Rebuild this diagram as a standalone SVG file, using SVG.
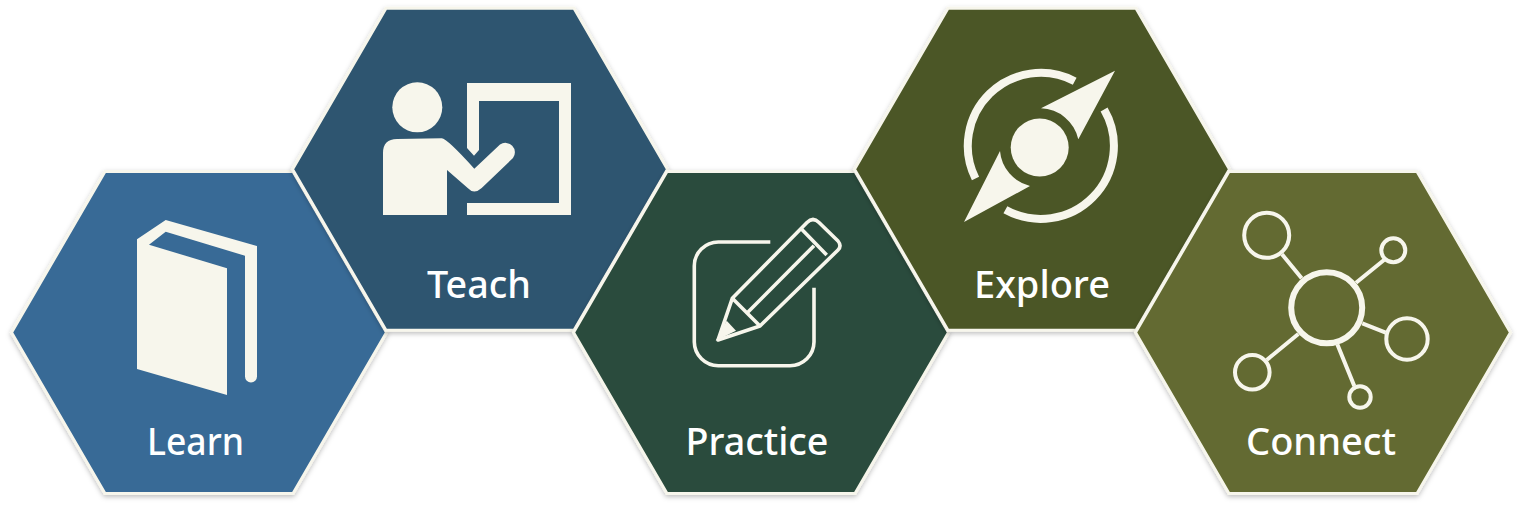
<svg xmlns="http://www.w3.org/2000/svg" width="1522" height="506" viewBox="0 0 1522 506">
<style>
.hex{stroke:#f7f6ec;stroke-width:3;stroke-linejoin:miter;filter:url(#sh)}
.ink{fill:#f7f6ec}
.ln{fill:none;stroke:#f7f6ec;stroke-width:4}
.pen{fill:none;stroke:#f7f6ec;stroke-width:3.6;stroke-linejoin:round}
.lbl{font-family:"Noto Sans","Liberation Sans",sans-serif;font-size:38px;font-weight:500;fill:#fff;text-anchor:middle}
</style>
<defs>
<filter id="sh" x="-5%" y="-5%" width="110%" height="112%"><feDropShadow dx="0" dy="2" stdDeviation="2.5" flood-color="#000" flood-opacity="0.25"/></filter>
<polygon id="hx" points="-187.5,0 -94,-161 94,-161 187.5,0 94,161 -94,161"/>
</defs>
<rect width="1522" height="506" fill="#fff"/>
<g id="learn">
<use href="#hx" class="hex" x="199" y="332.5" fill="#396a96"/>
<path class="ink" d="M137 239.3L165.7 220L257 246V376.5A6 6 0 0 1 245 376.5V255.7L165.7 231.7L149 244.7L227 268.3V395L137 369Z"/>
<text class="lbl" x="195.5" y="455" textLength="97" lengthAdjust="spacingAndGlyphs">Learn</text>
</g>
<g id="teach">
<use href="#hx" class="hex" x="480" y="169.3" fill="#2d5470"/>
<circle class="ink" cx="417.3" cy="107.3" r="25"/>
<path class="ink" d="M467 83H571V215H467V203H559V101H479V150L474 155.7L467 148Z"/>
<path class="ink" d="M383 215V153Q383 139 397 139L441.7 138.3Q447 138.5 474.3 168.7L500 144.5A9.5 9.5 0 0 1 513 158L481.7 188Q474 195 467.7 188L447 170V215Z"/>
<text class="lbl" x="479" y="298" textLength="104" lengthAdjust="spacingAndGlyphs">Teach</text>
</g>
<g id="practice">
<use href="#hx" class="hex" x="761" y="332.5" fill="#2c4c3e"/>
<path class="pen" d="M770.3 242H718.3A24 24 0 0 0 694.3 266V342A24 24 0 0 0 718.3 365.7H790A24 24 0 0 0 814 342V287.7"/>
<path class="pen" d="M732.3 298.3L807 222.5Q813 216.5 819 222.5L838 241Q842 246 838 250L760 326L718 340ZM732.3 298.3L760 326M801.7 229.3L826.7 255M748.3 311.7L814 245.7"/>
<polygon class="ink" points="715.7,340.7 726.7,320.7 736,330.7"/>
<text class="lbl" x="757" y="455" textLength="143" lengthAdjust="spacingAndGlyphs">Practice</text>
</g>
<g id="explore">
<use href="#hx" class="hex" x="1042" y="169.3" fill="#4b5628"/>
<path fill="none" stroke="#f7f6ec" stroke-width="8" d="M975.5 178.5A73 73 0 0 1 1074.7 81.2M1104.1 109.4A73 73 0 0 1 1005.4 209.7"/>
<circle class="ink" cx="1039.7" cy="147.5" r="29"/>
<path class="ink" d="M1115 70.7L1041 108.3A39.5 39.5 0 0 1 1078.3 139.3ZM964 222L1000 151A39.5 39.5 0 0 0 1030 186Z"/>
<text class="lbl" x="1042" y="298" textLength="136" lengthAdjust="spacingAndGlyphs">Explore</text>
</g>
<g id="connect">
<use href="#hx" class="hex" x="1323" y="332.5" fill="#636b30"/>
<circle class="ln" cx="1326.7" cy="307.7" r="35.5" style="stroke-width:6"/>
<circle class="ln" cx="1266.7" cy="235.3" r="22.5"/>
<circle class="ln" cx="1393.3" cy="250.3" r="12"/>
<circle class="ln" cx="1407" cy="339" r="20.7"/>
<circle class="ln" cx="1252.3" cy="372.3" r="17.3"/>
<circle class="ln" cx="1360" cy="397" r="10.7"/>
<path class="ln" d="M1282 254.3L1301.7 278.3M1356 282.7L1384 260M1362.3 323.3L1385.7 332.7M1266.7 360L1298.3 334M1337.3 344.3L1354.3 386"/>
<text class="lbl" x="1321" y="455" textLength="150" lengthAdjust="spacingAndGlyphs">Connect</text>
</g>
</svg>
